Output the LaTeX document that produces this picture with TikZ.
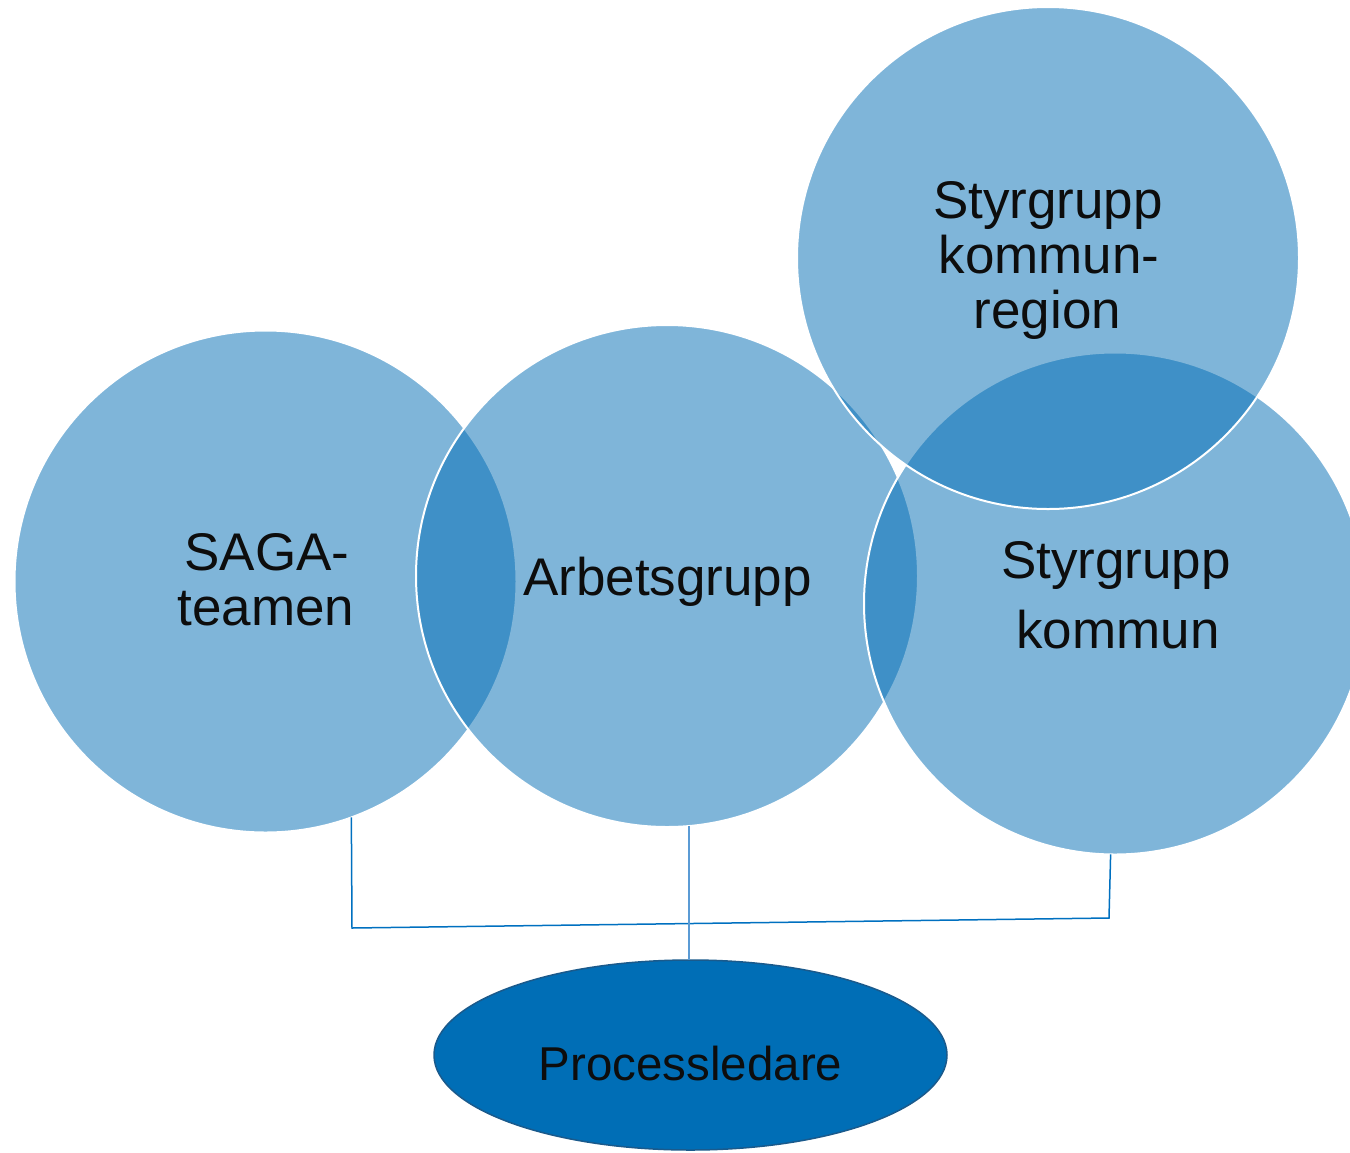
\documentclass[tikz,border=0pt]{standalone}
\usepackage{fontspec}
\setmainfont{Liberation Sans}
\usetikzlibrary{shapes.geometric}
\definecolor{venn}{RGB}{0,108,180}
\definecolor{procfill}{RGB}{0,110,182}
\definecolor{procedge}{RGB}{26,90,140}
\definecolor{linkdark}{RGB}{0,112,192}
\definecolor{linklight}{RGB}{91,155,213}
\definecolor{txt}{RGB}{13,13,13}
\begin{document}
\begin{tikzpicture}[x=1pt,y=-1pt,
  venncircle/.style={circle, inner sep=0pt, outer sep=0pt, minimum size=502pt,
    fill=venn, fill opacity=0.5, draw=white, draw opacity=1, line width=2pt},
  procnode/.style={ellipse, inner sep=0pt, outer sep=0pt, minimum width=513pt,
    minimum height=190pt, fill=procfill, draw=procedge, line width=1.5pt},
  lbl/.style={anchor=base, inner sep=0pt, text=txt, font=\fontsize{53}{56}\selectfont},
  linkA/.style={draw=linkdark, line width=1.5pt},
  linkB/.style={draw=linklight, line width=2pt}]
\useasboundingbox (0,0) rectangle (1350,1152);
% circles
\node[venncircle] (saga) at (265.5,581.5) {};
\node[venncircle] (arb) at (667,576) {};
\node[venncircle] (kom) at (1115,603.5) {};
\node[venncircle] (reg) at (1048,258) {};
% connectors
\coordinate (c1) at (352,928);
\coordinate (c2) at (1109,918);
\draw[linkA] (saga.-70) -- (c1) -- (c2) -- (kom.-91.4);
\node[procnode] (proc) at (690.5,1055) {};
\draw[linkB] (arb.-85.3) -- (arb.-85.3 |- proc.north);
% texts
\node[lbl] (t1) at (267,570) {SAGA-};
\node[lbl] (t2) at (266,625) {teamen};
\node[lbl] (t3) at (667.5,595) {Arbetsgrupp};
\node[lbl] (t4) at (1116,578) {Styrgrupp};
\node[lbl] (t5) at (1118,648) {kommun};
\node[lbl] (t6) at (1048,218) {Styrgrupp};
\node[lbl] (t7) at (1049,273) {kommun-};
\node[lbl] (t8) at (1047.5,328) {region};
\node[lbl, font=\fontsize{47.5}{50}\selectfont] (t9) at (690.5,1080) {Processledare};
\end{tikzpicture}
\end{document}
